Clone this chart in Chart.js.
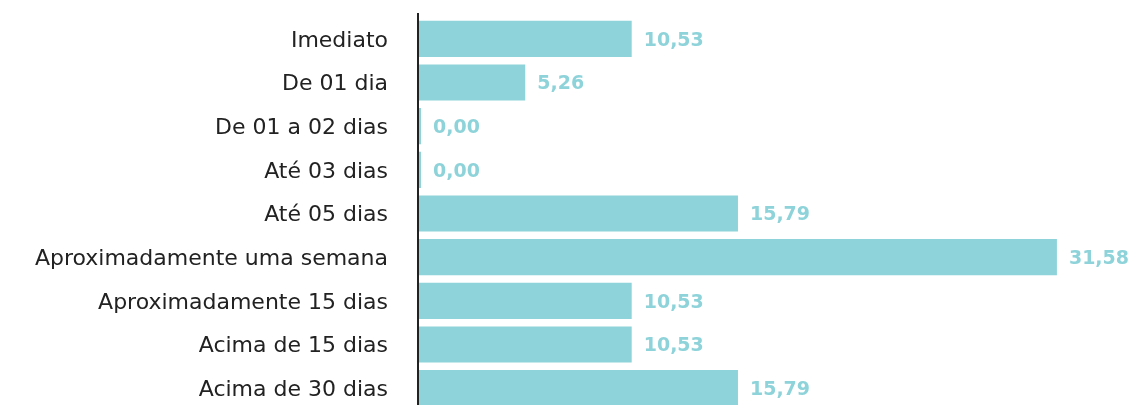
<!DOCTYPE html>
<html>
<head>
<meta charset="utf-8">
<script src="https://cdn.jsdelivr.net/npm/chart.js@4/dist/chart.umd.min.js"></script>
<style>
  html, body { margin: 0; padding: 0; background: #fff; overflow: hidden; }
</style>
</head>
<body>
<canvas id="chart" width="1128" height="410"></canvas>
<script>
// dados do gráfico
const categorias = [
  'Imediato',
  'De 01 dia',
  'De 01 a 02 dias',
  'Até 03 dias',
  'Até 05 dias',
  'Aproximadamente uma semana',
  'Aproximadamente 15 dias',
  'Acima de 15 dias',
  'Acima de 30 dias'
];
const percentuais = [10.53, 5.26, 0.00, 0.00, 15.79, 31.58, 10.53, 10.53, 15.79];

const corBarra = '#8dd3d9';
const fonte = "'DejaVu Sans', sans-serif";

// rótulos de valor ao lado das barras
const rotulosValor = {
  id: 'rotulosValor',
  afterDatasetsDraw(chart) {
    const ctx = chart.ctx;
    const meta = chart.getDatasetMeta(0);
    ctx.save();
    ctx.font = 'bold 19px ' + fonte;
    ctx.fillStyle = corBarra;
    ctx.textBaseline = 'middle';
    ctx.textAlign = 'left';
    meta.data.forEach((bar, i) => {
      const txt = percentuais[i].toFixed(2).replace('.', ',');
      ctx.fillText(txt, bar.x + 12, bar.y + 2);
    });
    ctx.restore();
  }
};

// linha do eixo (um pouco acima da área)
const linhaEixo = {
  id: 'linhaEixo',
  afterDraw(chart) {
    const { ctx, chartArea } = chart;
    ctx.save();
    ctx.strokeStyle = '#222';
    ctx.lineWidth = 2;
    ctx.beginPath();
    ctx.moveTo(chartArea.left - 1, chartArea.top - 4);
    ctx.lineTo(chartArea.left - 1, chartArea.bottom);
    ctx.stroke();
    ctx.restore();
  }
};

new Chart(document.getElementById('chart'), {
  type: 'bar',
  data: {
    labels: categorias,
    datasets: [{
      data: percentuais,
      backgroundColor: corBarra,
      borderWidth: 0,
      minBarLength: 2,
      barPercentage: 0.83,
      categoryPercentage: 1
    }]
  },
  options: {
    indexAxis: 'y',
    responsive: false,
    animation: false,
    layout: { autoPadding: false, padding: { top: 17, right: 2, bottom: 0, left: 0 } },
    plugins: { legend: { display: false }, tooltip: { enabled: false } },
    scales: {
      x: {
        display: false,
        min: 0,
        max: 35
      },
      y: {
        grid: { display: false, drawTicks: false },
        border: { display: false },
        afterFit(scale) {
          scale.width = 419;
          scale.paddingTop = 0;
          scale.paddingBottom = 0;
        },
        ticks: {
          color: '#222',
          padding: 31,
          labelOffset: 2,
          font: { family: fonte, size: 22 }
        }
      }
    }
  },
  plugins: [rotulosValor, linhaEixo]
});
</script>
</body>
</html>
